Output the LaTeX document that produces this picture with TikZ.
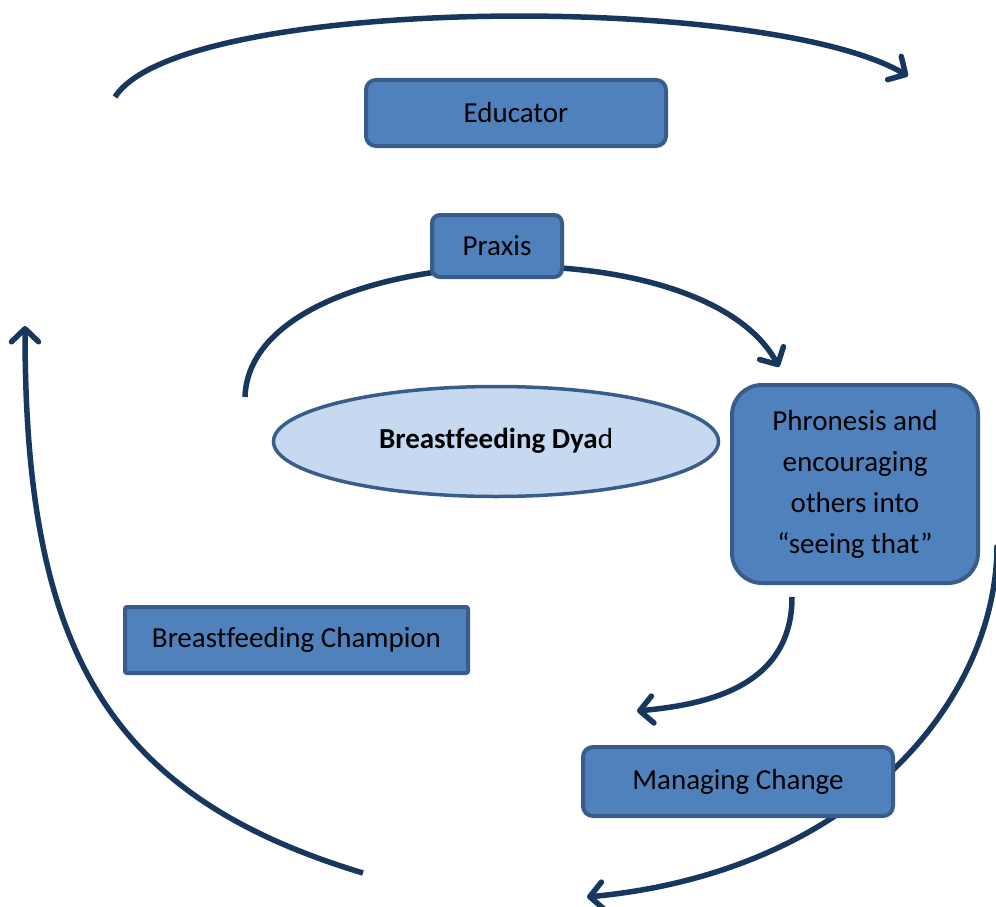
\documentclass[tikz,border=0pt]{standalone}
\usepackage{fontspec}
\setmainfont{Carlito}[Ligatures=NoCommon]
\usetikzlibrary{shapes.geometric,arrows.meta}
\definecolor{boxfill}{HTML}{4F81BD}
\definecolor{boxline}{HTML}{385D8A}
\definecolor{ellfill}{HTML}{C6D9F1}
\definecolor{arrowcol}{HTML}{17375E}
\pgfdeclarelayer{bg}
\pgfsetlayers{bg,main}
\begin{document}
\begin{tikzpicture}[x=1pt,y=-1pt,
  box/.style={draw=boxline, fill=boxfill, line width=4pt, rounded corners=10pt,
    inner sep=0pt, align=center, font=\fontsize{29}{41}\selectfont},
  dyad/.style={ellipse, draw=boxline, fill=ellfill, line width=3.5pt, inner sep=0pt,
    minimum width=445pt, minimum height=110pt, font=\fontsize{29}{35}\selectfont},
  cyc/.style={draw=arrowcol, line width=5.5pt,
    -{Straight Barb[length=13pt,width=27pt,round]}}]
\useasboundingbox (0,0) rectangle (996,907);

% nodes
\node[box, minimum width=300pt, minimum height=66pt] (edu) at (516,113) {\raisebox{-2pt}{Educator}};
\node[box, rounded corners=8pt, minimum width=130pt, minimum height=62pt] (praxis) at (497,246) {\raisebox{-2pt}{Praxis}};
\node[dyad] (dyad) at (496,441.5) {\raisebox{7pt}{{\bfseries Breastfeeding Dya}d}};
\node[box, rounded corners=30pt, minimum width=246pt, minimum height=198pt] (phron) at (855,484)
  {\raisebox{-4pt}{\begin{tabular}{@{}c@{}}Phronesis and\\encouraging\\others into\\``seeing that''\end{tabular}}};
\node[box, rounded corners=2pt, minimum width=343pt, minimum height=66pt] (champ) at (296.5,640) {\raisebox{-2pt}{Breastfeeding Champion}};
\node[box, minimum width=310pt, minimum height=69pt] (mc) at (738,781.5) {\raisebox{-2pt}{Managing Change}};

% free ends of the cycle arrows
\coordinate (topS) at (115,97);
\coordinate (topE) at (908,76);
\coordinate (praS) at (245,397);
\coordinate (praE) at (779,367);
\coordinate (phrS) at (792,597);
\coordinate (phrE) at (637,711);
\coordinate (rgtS) at (997,545);
\coordinate (rgtE) at (587,897);
\coordinate (lftS) at (363,873);
\coordinate (lftE) at (25,326);

\begin{pgfonlayer}{bg}
\draw[cyc] (topS) .. controls (180,-5) and (765,-8) .. (topE);
\draw[cyc] (praS) .. controls (250,240) and (700,220) .. (praE);
\draw[cyc] (phrS) .. controls (792,690) and (700,705) .. (phrE);
\draw[cyc] (rgtS) .. controls (997,700) and (855,872) .. (rgtE);
\draw[cyc] (lftS) .. controls (104,795) and (25,646) .. (lftE);
\end{pgfonlayer}
\end{tikzpicture}
\end{document}
